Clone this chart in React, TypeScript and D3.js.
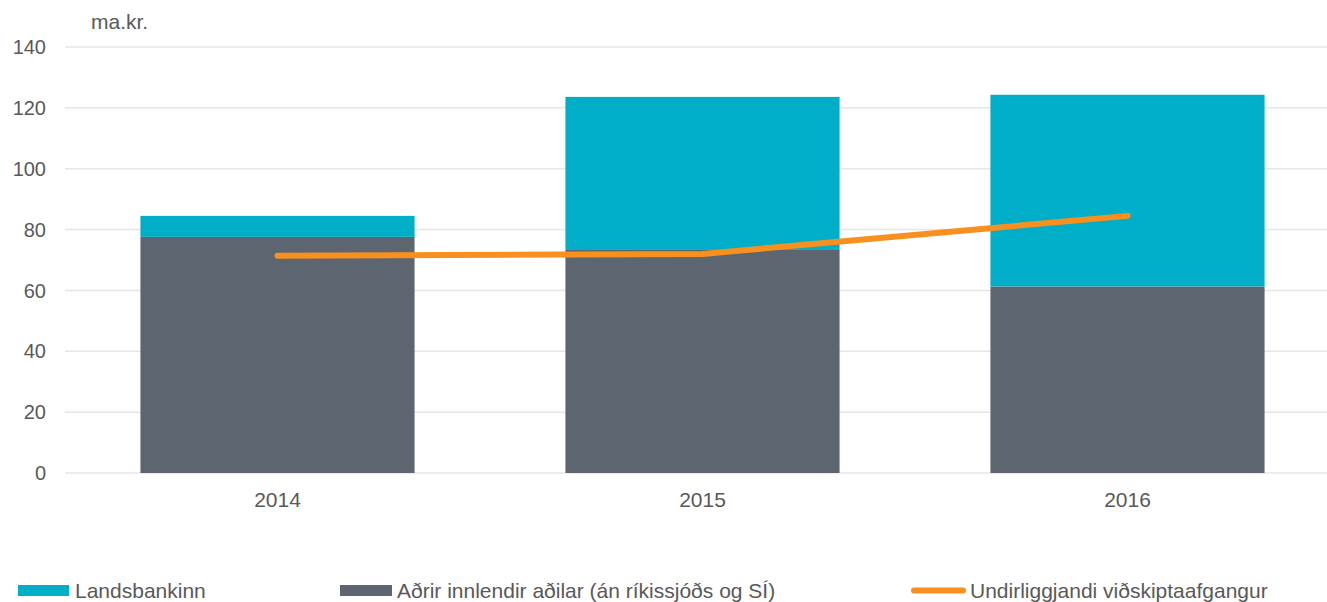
import React from "react";
// @ts-ignore
import * as d3 from "d3";

const WIDTH = 1327;
const HEIGHT = 602;

const years = ["2014", "2015", "2016"];
const adrir = [77.6, 73.3, 61.3];
const landsbankinn = [6.9, 50.3, 63.0];
const undirliggjandi = [71.4, 72.0, 84.5];
const yTicks = [0, 20, 40, 60, 80, 100, 120, 140];

const TEAL = "#00AEC7";
const GRAY = "#5D6670";
const ORANGE = "#F7901E";
const TEXT = "#595959";

const App = () => {
  const svgRef = React.useRef<SVGSVGElement>(null);

  React.useEffect(() => {
    const svg = d3.select(svgRef.current);
    svg.selectAll("*").remove();

    const x = d3.scaleBand().domain(years).range([65, 1340]).paddingInner(0.355).paddingOuter(0.1775);
    const y = d3.scaleLinear().domain([0, 140]).range([473, 47]);

    const font = "'Liberation Sans', Arial, sans-serif";

    // gridlines
    svg
      .append("g")
      .selectAll("line")
      .data(yTicks)
      .join("line")
      .attr("x1", 65)
      .attr("x2", 1327)
      .attr("y1", (d: number) => y(d))
      .attr("y2", (d: number) => y(d))
      .attr("stroke", "#E6E6E6")
      .attr("stroke-width", 1.5);

    svg
      .append("g")
      .attr("font-family", font)
      .attr("font-size", 20)
      .attr("fill", TEXT)
      .attr("text-anchor", "end")
      .selectAll("text")
      .data(yTicks)
      .join("text")
      .attr("x", 46)
      .attr("y", (d: number) => y(d))
      .attr("dy", "0.36em")
      .text((d: number) => d);

    svg
      .append("text")
      .attr("x", 91)
      .attr("y", 29)
      .attr("font-family", font)
      .attr("font-size", 21)
      .attr("fill", TEXT)
      .text("ma.kr.");

    const stack = years.map((yr, i) => ({ yr, a: adrir[i], l: landsbankinn[i] }));

    svg
      .append("g")
      .selectAll("rect")
      .data(stack)
      .join("rect")
      .attr("x", (d: any) => x(d.yr))
      .attr("width", x.bandwidth())
      .attr("y", (d: any) => y(d.a))
      .attr("height", (d: any) => y(0) - y(d.a))
      .attr("fill", GRAY);

    svg
      .append("g")
      .selectAll("rect")
      .data(stack)
      .join("rect")
      .attr("x", (d: any) => x(d.yr))
      .attr("width", x.bandwidth())
      .attr("y", (d: any) => y(d.a + d.l))
      .attr("height", (d: any) => y(d.a) - y(d.a + d.l))
      .attr("fill", TEAL);

    const line = d3
      .line()
      .x((d: any, i: number) => (x(years[i]) as number) + x.bandwidth() / 2)
      .y((d: any) => y(d));

    svg
      .append("path")
      .datum(undirliggjandi)
      .attr("d", line)
      .attr("fill", "none")
      .attr("stroke", ORANGE)
      .attr("stroke-width", 6)
      .attr("stroke-linecap", "round")
      .attr("stroke-linejoin", "round");

    svg
      .append("g")
      .attr("font-family", font)
      .attr("font-size", 21)
      .attr("fill", TEXT)
      .attr("text-anchor", "middle")
      .selectAll("text")
      .data(years)
      .join("text")
      .attr("x", (d: string) => (x(d) as number) + x.bandwidth() / 2)
      .attr("y", 507)
      .text((d: string) => d);

    // legend
    const legend = svg.append("g").attr("font-family", font).attr("font-size", 21).attr("fill", TEXT);
    legend.append("rect").attr("x", 18).attr("y", 585).attr("width", 51).attr("height", 11).attr("fill", TEAL);
    legend.append("text").attr("x", 75).attr("y", 598).text("Landsbankinn");
    legend.append("rect").attr("x", 340).attr("y", 585).attr("width", 52).attr("height", 11).attr("fill", GRAY);
    legend.append("text").attr("x", 397).attr("y", 598).text("Aðrir innlendir aðilar (án ríkissjóðs og SÍ)");
    legend
      .append("line")
      .attr("x1", 914)
      .attr("x2", 963)
      .attr("y1", 590.5)
      .attr("y2", 590.5)
      .attr("stroke", ORANGE)
      .attr("stroke-width", 6)
      .attr("stroke-linecap", "round");
    legend.append("text").attr("x", 970).attr("y", 598).text("Undirliggjandi viðskiptaafgangur");
  }, []);

  return (
    <svg
      ref={svgRef}
      width={WIDTH}
      height={HEIGHT}
      style={{ position: "absolute", left: 0, top: 0 }}
    />
  );
};

export default App;
